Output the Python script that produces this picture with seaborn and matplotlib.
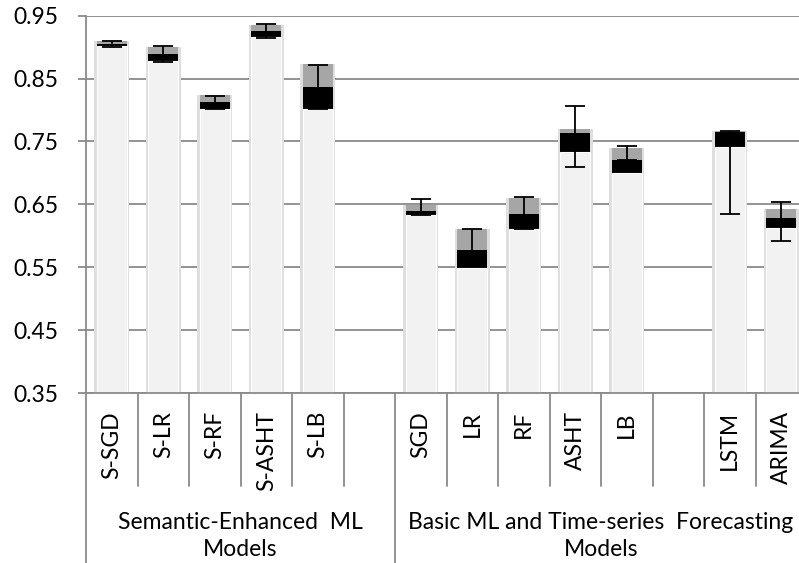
import numpy as np
import pandas as pd
import matplotlib
matplotlib.use("Agg")
import matplotlib.pyplot as plt
import seaborn as sns

nan = np.nan
categories = ["S-SGD", "S-LR", "S-RF", "S-ASHT", "S-LB", "",
              "SGD", "LR", "RF", "ASHT", "LB", " ", "LSTM", "ARIMA"]
base_top  = [0.902, 0.878, 0.802, 0.916, 0.802, nan, 0.633, 0.549, 0.610, 0.733, 0.700, nan, 0.741, 0.613]
black_top = [0.905, 0.889, 0.813, 0.926, 0.837, nan, 0.640, 0.577, 0.635, 0.764, 0.720, nan, 0.765, 0.629]
gray_top  = [0.910, 0.900, 0.824, 0.935, 0.873, nan, 0.649, 0.611, 0.660, 0.769, 0.740, nan, 0.766, 0.643]
err_low   = [0.900, 0.876, 0.801, 0.915, 0.801, nan, 0.633, 0.565, 0.610, 0.709, 0.720, nan, 0.634, 0.591]
err_high  = [0.909, 0.901, 0.822, 0.936, 0.871, nan, 0.658, 0.610, 0.661, 0.807, 0.742, nan, 0.767, 0.653]
group_labels = ["Semantic-Enhanced  ML\nModels", "Basic ML and Time-series  Forecasting\nModels"]
group_sizes = [6, 8]
yticks = [0.35, 0.45, 0.55, 0.65, 0.75, 0.85, 0.95]

df = pd.DataFrame({"model": categories, "base": base_top, "black": black_top,
                   "gray": gray_top, "lo": err_low, "hi": err_high})

sns.set_style("white")
plt.rcParams["font.family"] = ["Lato", "DejaVu Sans"]

FS = 16.5
GRID = "#8a8a8a"
fig = plt.figure(figsize=(7.99, 5.63), dpi=100)
ax = fig.add_axes([86 / 799, 170 / 563, 721 / 799, 377.4 / 563])
ax.set_axisbelow(True)

W = 0.58
# soft shadow behind the stacked bars
sns.barplot(data=df, x="model", y="gray", order=categories, color="#dedede",
            saturation=1, width=W + 0.09, linewidth=0, ax=ax)
sns.barplot(data=df, x="model", y="gray", order=categories, color="#a6a6a6",
            saturation=1, width=W, linewidth=0, ax=ax)
sns.barplot(data=df, x="model", y="black", order=categories, color="#000000",
            saturation=1, width=W, linewidth=0, ax=ax)
sns.barplot(data=df, x="model", y="base", order=categories, color="#f2f2f2",
            saturation=1, width=W, edgecolor="white", linewidth=0.8, ax=ax)

xpos = np.arange(len(categories))
lo = df["lo"].to_numpy()
hi = df["hi"].to_numpy()
center = (lo + hi) / 2
ax.errorbar(xpos, center, yerr=[center - lo, hi - center], fmt="none",
            ecolor="black", elinewidth=1.3, capsize=7, capthick=1.3, zorder=5)

ax.set_ylim(0.35, 0.95)
ax.set_xlim(-0.5, len(categories) - 0.5)
ax.set_yticks(yticks)
ax.set_yticklabels([f"{v:.2f}" for v in yticks])
ax.yaxis.grid(True, color=GRID, linewidth=1.3)
ax.xaxis.grid(False)
ax.set_xlabel("")
ax.set_ylabel("")

for s in ["top", "right"]:
    ax.spines[s].set_visible(False)
for s in ["left", "bottom"]:
    ax.spines[s].set_color(GRID)
    ax.spines[s].set_linewidth(1.3)

ax.tick_params(axis="y", direction="out", length=5.8, width=1.3, color=GRID,
               labelsize=FS, labelcolor="black", pad=14, left=True)
ax.tick_params(axis="x", rotation=90, length=0, pad=13, labelsize=FS,
               labelcolor="black")

# category separators and group separators
trans = ax.get_xaxis_transform()
bounds = np.arange(len(categories) + 1) - 0.5
group_bounds = np.concatenate([[0], np.cumsum(group_sizes)]) - 0.5
for b in bounds:
    is_group = np.any(np.isclose(group_bounds, b))
    ax.plot([b, b], [0, -0.46 if is_group else -0.247], transform=trans,
            clip_on=False, color=GRID, linewidth=1.3)

starts = np.concatenate([[0], np.cumsum(group_sizes)[:-1]])
for lab, st, sz in zip(group_labels, starts, group_sizes):
    ax.text(st - 0.5 + sz / 2, -0.379, lab, transform=trans, ha="center",
            va="center", fontsize=FS, linespacing=1.32, color="black")

fig.savefig("out.png", dpi=100)
